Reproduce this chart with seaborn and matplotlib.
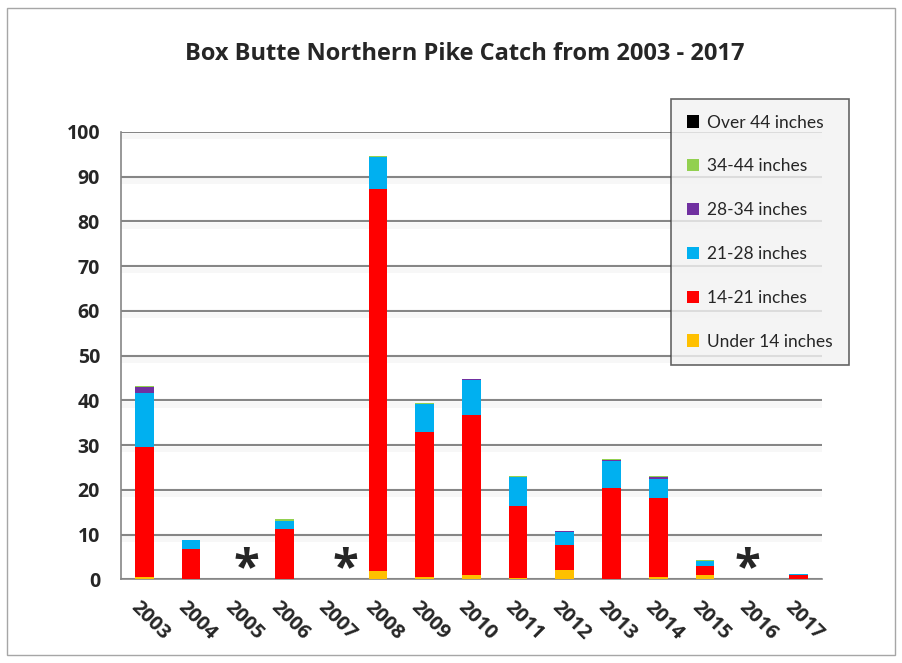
import numpy as np
import pandas as pd
import matplotlib.pyplot as plt
import seaborn as sns
from matplotlib.patches import Patch, Rectangle

# catch by length class
years = ["2003", "2004", "2005", "2006", "2007", "2008", "2009", "2010",
         "2011", "2012", "2013", "2014", "2015", "2016", "2017"]
under_14 = [0.6, 0.0, 0, 0.0, 0, 1.9, 0.5, 1.0, 0.3, 2.2, 0.0, 0.5, 1.0, 0, 0.0]
in_14_21 = [29.0, 6.8, 0, 11.2, 0, 85.4, 32.4, 35.8, 16.2, 5.5, 20.4, 17.8, 2.0, 0, 1.0]
in_21_28 = [12.1, 2.0, 0, 1.9, 0, 7.0, 6.2, 7.7, 6.4, 2.9, 6.0, 4.2, 1.2, 0, 0.25]
in_28_34 = [1.2, 0.0, 0, 0.0, 0, 0.0, 0.0, 0.2, 0.0, 0.2, 0.3, 0.3, 0.0, 0, 0.0]
in_34_44 = [0.4, 0.0, 0, 0.5, 0, 0.4, 0.3, 0.0, 0.2, 0.0, 0.3, 0.4, 0.1, 0, 0.0]
over_44 = [0, 0, 0, 0, 0, 0, 0, 0, 0, 0, 0, 0, 0, 0, 0]
no_data = ["2005", "2007", "2016"]

classes = ["Under 14 inches", "14-21 inches", "21-28 inches",
           "28-34 inches", "34-44 inches", "Over 44 inches"]
colors = ["#FFC000", "#FF0000", "#00B0F0", "#7030A0", "#92D050", "#000000"]

df = pd.DataFrame({"year": years, classes[0]: under_14, classes[1]: in_14_21,
                   classes[2]: in_21_28, classes[3]: in_28_34,
                   classes[4]: in_34_44, classes[5]: over_44})

sns.set_style("white")
plt.rcParams["font.family"] = ["Open Sans", "DejaVu Sans"]

fig = plt.figure(figsize=(9.02, 6.63), dpi=100)
ax = fig.add_axes([0.134, 0.126, 0.777, 0.675])

bottom = np.zeros(len(years))
for cls, col in zip(classes, colors):
    sns.barplot(data=df, x="year", y=cls, color=col, bottom=bottom,
                width=0.4, saturation=1, linewidth=0, ax=ax, zorder=3)
    bottom = bottom + df[cls].values

ax.set_ylim(0, 100)
ax.set_xlim(-0.5, len(years) - 0.5)
ax.set_yticks(range(0, 101, 10))
ax.yaxis.grid(True, color="#868686", linewidth=1.5, zorder=0)
# faint shadow band under each gridline, like the Excel original
for v in range(10, 101, 10):
    ax.axhspan(v - 1.6, v - 0.4, color="#F7F7F7", zorder=0, linewidth=0)
ax.set_axisbelow(True)
for s in ["top", "right"]:
    ax.spines[s].set_visible(False)
for s in ["left", "bottom"]:
    ax.spines[s].set_color("#868686")
    ax.spines[s].set_linewidth(1.2)
ax.set_xlabel("")
ax.set_ylabel("")

ax.tick_params(axis="y", length=6, color="#868686", labelsize=14, pad=9)
ax.set_yticklabels([str(v) for v in range(0, 101, 10)], fontweight="bold")

# x ticks at category boundaries, labels at centers
ax.set_xticks(np.arange(len(years) + 1) - 0.5)
ax.set_xticklabels([])
ax.tick_params(axis="x", length=8, color="#868686", direction="out")
for i, y in enumerate(years):
    ax.text(i - 0.22, -5.5, y, rotation=-45, ha="left", va="center",
            rotation_mode="anchor", fontsize=14.5, fontweight="bold")

star_shift = [0.18, 0.3, -0.08]
for y, dx in zip(no_data, star_shift):
    ax.text(years.index(y) + dx, 2.2, "*", ha="center", va="center",
            fontsize=34, fontweight="bold")

fig.text(0.515, 0.918, "Box Butte Northern Pike Catch from 2003 - 2017",
         ha="center", va="center", fontsize=17, fontweight="bold")

handles = [Patch(facecolor=c, edgecolor="none", label=l)
           for l, c in zip(classes[::-1], colors[::-1])]
leg = fig.legend(handles=handles, loc="upper left",
                 bbox_to_anchor=(671 / 902, 1 - 99 / 663),
                 prop={"family": ["Lato", "DejaVu Sans"], "size": 12.5},
                 frameon=True, fancybox=False,
                 handlelength=0.7, handleheight=0.7, handletextpad=0.5,
                 labelspacing=1.6, borderpad=0.9, borderaxespad=0)
leg.get_frame().set_facecolor("#F2F2F2")
leg.get_frame().set_edgecolor("#404040")
leg.get_frame().set_linewidth(1.2)

fig.patches.append(Rectangle((0.008, 0.012), 0.984, 0.976, transform=fig.transFigure,
                             fill=False, edgecolor="#A6A6A6", linewidth=1))

fig.savefig("out.png", dpi=100)
